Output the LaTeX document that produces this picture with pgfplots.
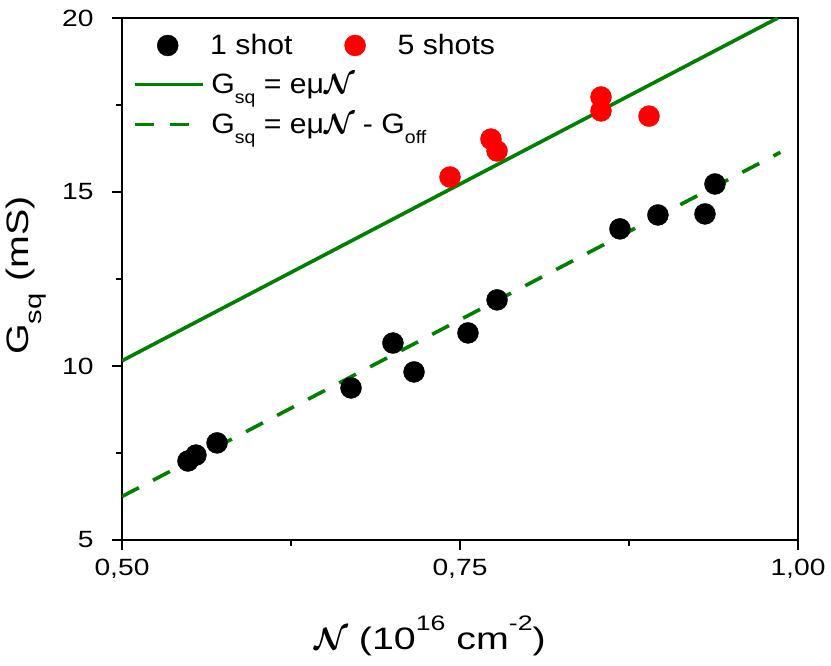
\RequirePackage{fix-cm}
\documentclass[border=0pt]{standalone}
\usepackage{pgfplots}
\pgfplotsset{compat=1.18}
\usepackage{bm}
\usepackage{fontspec}
\setmainfont{Liberation Sans}
\newfontfamily\tickfont{Liberation Sans}[FakeStretch=1.2]
\newfontfamily\labelfont{Liberation Sans}[FakeStretch=1.27]
\newfontfamily\legfont{Liberation Sans}[FakeStretch=1.08]
\definecolor{lgreen}{RGB}{0,128,0}
\definecolor{lred}{RGB}{255,0,0}
\pgfplotstableread{
x y
0.5488 7.27
0.5547 7.44
0.5703 7.79
0.6694 9.37
0.7004 10.66
0.7160 9.83
0.7559 10.95
0.7774 11.90
0.8683 13.94
0.8964 14.34
0.9312 14.37
0.9386 15.23
}\oneshot
\pgfplotstableread{
x y
0.7426 15.43
0.7729 16.52
0.7774 16.18
0.8543 17.73
0.8543 17.33
0.8898 17.18
}\fiveshots
\pgfplotstableread{
x y
0.5 10.15
0.985 20.0
}\fitA
\pgfplotstableread{
x y
0.5 6.25
0.987 16.14
}\fitB
\newcommand{\calN}{$\bm{\mathcal{N}}$}
\newcommand{\ysub}[1]{\raisebox{-13pt}{\fontsize{23}{23}\selectfont #1}}
\newcommand{\xsup}[1]{\raisebox{19pt}{\fontsize{21}{21}\selectfont #1}}
\newcommand{\lsub}[1]{\raisebox{-10pt}{\fontsize{18}{18}\selectfont #1}}
\begin{document}
\begin{tikzpicture}
\pgfplotsset{
  common/.style={
    at={(0,0)}, anchor=south west,
    scale only axis, width=676pt, height=522pt,
    xmin=0.5, xmax=1.0, ymin=5, ymax=20,
  },
}
\begin{axis}[common,
  xtick={0.5,0.75,1.0},
  xticklabels={{0,50},{0,75},{1,00}},
  ytick={5,10,15,20},
  yticklabels={5,10,15,20},
  minor xtick={0.625,0.875},
  minor ytick={7.5,12.5,17.5},
  tick align=outside,
  xtick pos=bottom, ytick pos=left,
  major tick length=10pt, minor tick length=6pt,
  every tick/.style={black, line width=2pt},
  axis line style={line width=2.5pt},
  ticklabel style={font=\tickfont\fontsize{23.5}{28}\selectfont},
  xticklabel style={yshift=-6pt},
  yticklabel style={xshift=-15pt},
  xlabel={\calN{} (10\xsup{16} cm\xsup{-2})},
  ylabel={G\ysub{sq}\hspace{1pt} (mS)},
  label style={font=\labelfont\fontsize{31}{35}\selectfont},
  xlabel style={at={(axis description cs:0.4556,-0.209)}, anchor=base},
  ylabel style={at={(axis description cs:-0.1376,0.507)}, anchor=base},
  legend style={at={(0.0163,0.893)}, anchor=north west, draw=none, fill=none,
    inner sep=0pt, font=\legfont\fontsize{28}{32}\selectfont, row sep=19pt,
    nodes={inner sep=0pt},
    /tikz/every odd column/.append style={column sep=6.5pt}},
  legend cell align=left,
  legend image code/.code={\draw[#1] (0pt,0pt) -- (68pt,0pt);},
]
\addplot[only marks, mark=*, mark size=10.5pt, black, forget plot] table {\oneshot};
\addplot[lgreen, line width=3.6pt, no marks] table {\fitA};
\addlegendentry{G\lsub{sq} = eμ\calN}
\addplot[lgreen, line width=3.6pt, no marks, dash pattern=on 19pt off 16pt] table {\fitB};
\addlegendentry{G\lsub{sq} = eμ\calN{} - G\lsub{off}}
\end{axis}
\begin{axis}[common, hide axis,
  legend style={at={(0.0518,0.9686)}, anchor=north west, draw=none, fill=none,
    inner sep=0pt, font=\legfont\fontsize{28}{32}\selectfont,
    nodes={inner sep=0pt},
    legend columns=2,
    /tikz/every odd column/.append style={column sep=32pt},
    /tikz/every even column/.append style={column sep=52pt}},
  legend cell align=left,
  legend image code/.code={\draw[mark repeat=2,mark phase=2,#1] plot coordinates {(0pt,0pt)(20pt,0pt)(40pt,0pt)};},
]
\addlegendimage{only marks, mark=*, mark size=10.5pt, black}
\addlegendentry{1 shot}
\addplot[only marks, mark=*, mark size=10.5pt, lred, draw=lred] table {\fiveshots};
\addlegendentry{5 shots}
\end{axis}
\pgfresetboundingbox
\useasboundingbox (-122pt,-126pt) rectangle (709pt,540pt);
\end{tikzpicture}
\end{document}
